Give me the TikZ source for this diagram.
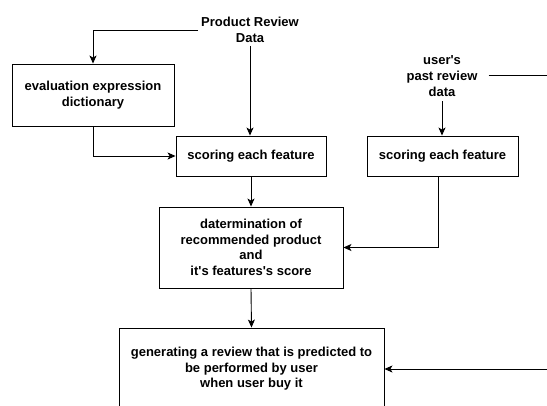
\documentclass[tikz,border=0pt]{standalone}
\usepackage{fontspec}
\setmainfont{Liberation Sans}
\usetikzlibrary{arrows.meta}
\newcommand{\sq}{\textquotesingle}
\begin{document}
\begin{tikzpicture}[x=1pt,y=-1pt,
  lbl/.style={font=\bfseries\fontsize{13}{15.6}\selectfont, align=center, inner sep=3pt},
  stepbox/.style={lbl, draw, line width=0.9pt, minimum width=#1, inner sep=0pt},
  link/.style={line width=0.9pt, -{Stealth[length=8pt,width=7pt,inset=2pt]}},
  wire/.style={line width=0.9pt}]
\clip (0,0) rectangle (547,405);
\fill[white] (0,0) rectangle (547,405);

% sources
\node[lbl] (prd) at (250,30) {Product Review\\Data};
\node[lbl, inner ysep=5pt] (usr) at (442,76) {user\sq s\\past review\\data};

% processing steps
\node[stepbox=162pt, minimum height=62pt] (dict) at (93,95) {evaluation expression\\dictionary};
\node[stepbox=150pt, minimum height=40pt] (sc1) at (251,156) {scoring each feature};
\node[stepbox=151pt, minimum height=40pt] (sc2) at (442.5,156) {scoring each feature};
\node[stepbox=184pt, minimum height=81pt] (det) at (251,247.5) {datermination of\\recommended product\\and\\it\sq s features\sq s score};
\node[stepbox=265pt, minimum height=82pt] (gen) at (251.5,369) {generating a review that is predicted to\\be performed by user\\when user buy it};

% loose ends running off the right margin
\coordinate (outA) at (560,75);
\coordinate (inB) at (560,369);

% connectors
\draw[link] (prd.west) -| (dict.north);
\draw[link] (prd.south) -- (prd.south |- sc1.north);
\draw[link] (dict.south) |- (sc1.west);
\draw[link] (usr.south) -- (usr.south |- sc2.north);
\draw[wire] (usr.east |- outA) ++(8,0) -- (outA);
\draw[link] (sc1.south) -- (sc1.south |- det.north);
\draw[link] ([xshift=-4pt]sc2.south) |- (det.east);
\draw[link] (det.south) -- (gen.north);
\draw[link] (inB) -- (gen.east);
\end{tikzpicture}
\end{document}
